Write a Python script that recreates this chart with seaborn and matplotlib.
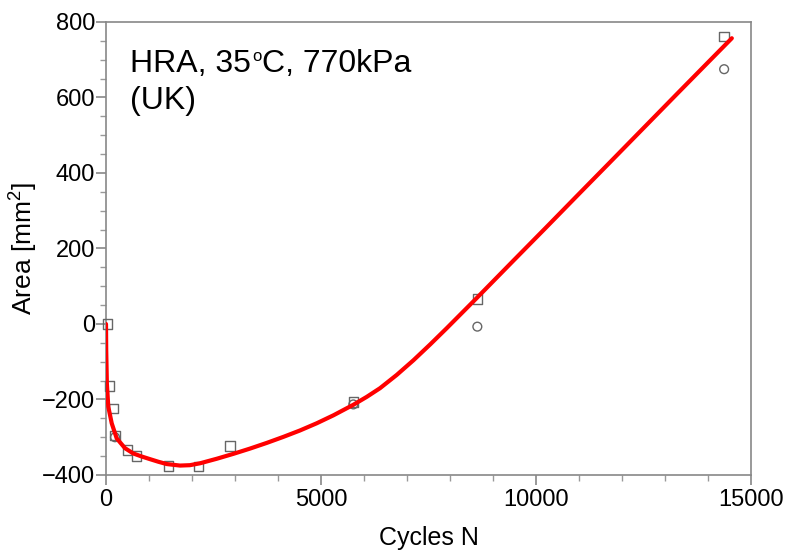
import numpy as np
import pandas as pd
import matplotlib
matplotlib.use("Agg")
import matplotlib.pyplot as plt
import seaborn as sns

# Measured rut area (two measurement sets: squares and circles)
cycles_sq = [30, 77, 170, 209, 495, 714, 1449, 2147, 2884, 5752, 8636, 14375]
area_sq = [0, -164, -223, -296, -334, -350, -376, -378, -323, -207, 66, 761]
cycles_ci = [209, 5752, 8636, 14375]
area_ci = [-300, -213, -7, 675]

# Fitted trend curve
fit_cycles = [0, 5, 20, 53, 133, 249, 442, 635, 830, 1023, 1220, 1412, 1721,
              1950, 2186, 2575, 2961, 3350, 3738, 4125, 4512, 4900, 5287, 5752,
              6064, 6373, 6760, 7150, 7540, 7925, 8615, 9450, 10220, 10950,
              11700, 12500, 13300, 14000, 14554]
fit_area = [0, -69, -157, -219, -263, -303, -329, -343, -351, -358, -365, -371,
            -375, -374, -369, -357, -344, -330, -315, -299, -282, -263, -242,
            -214, -193, -170, -135, -96, -54, -11, 68, 165, 254, 339,
            426, 519, 612, 693, 757]

sns.set_style("ticks", {"text.color": "black", "axes.labelcolor": "black",
                        "xtick.color": "#888888", "ytick.color": "#888888",
                        "axes.edgecolor": "#888888"})
plt.rcParams["font.family"] = ["Liberation Sans", "DejaVu Sans"]
plt.rcParams["mathtext.fontset"] = "custom"
plt.rcParams["mathtext.rm"] = "Liberation Sans"
plt.rcParams["mathtext.it"] = "Liberation Sans:italic"

fig = plt.figure(figsize=(7.91, 5.54), dpi=100)
ax = fig.add_axes([106 / 791, 1 - 475 / 554, 645 / 791, 453 / 554])

sq = pd.DataFrame({"N": cycles_sq, "A": area_sq})
ci = pd.DataFrame({"N": cycles_ci, "A": area_ci})
fit = pd.DataFrame({"N": fit_cycles, "A": fit_area})

sns.scatterplot(data=ci, x="N", y="A", marker="o", s=40, facecolor="none",
                edgecolor="#666666", linewidth=1.0, ax=ax, zorder=3, clip_on=False)
sns.scatterplot(data=sq, x="N", y="A", marker="s", s=45, facecolor="none",
                edgecolor="#666666", linewidth=1.0, ax=ax, zorder=3, clip_on=False)
sns.lineplot(data=fit, x="N", y="A", color="#ff0000", linewidth=3.0,
             ax=ax, zorder=4, sort=False)

ax.set_xlim(0, 15000)
ax.set_ylim(-400, 800)
ax.set_xticks([0, 5000, 10000, 15000])
ax.set_xticks(np.arange(0, 15001, 1000), minor=True)
ax.set_yticks([-400, -200, 0, 200, 400, 600, 800])
ax.set_yticks(np.arange(-400, 801, 50), minor=True)
ax.set_yticklabels(["\u2212400", "\u2212200", "0", "200", "400", "600", "800"])

for s in ax.spines.values():
    s.set_color("#888888")
    s.set_linewidth(1.2)
ax.tick_params(axis="both", which="major", direction="out", length=7, width=1.2,
               color="#888888", labelsize=17, labelcolor="black")
ax.tick_params(axis="x", which="major", pad=3)
ax.tick_params(axis="y", which="major", pad=1)
ax.tick_params(axis="both", which="minor", direction="out", length=4, width=1.0,
               color="#999999")

ax.set_xlabel("Cycles N", fontsize=18, labelpad=11)
ax.set_ylabel("Area [mm$^2$]", fontsize=19, labelpad=1)

# Test-condition caption, with a small raised "o" for degrees
t1 = fig.text(130 / 791, 1 - 72 / 554, "HRA, 35", fontsize=23, va="baseline",
              ha="left", color="black")
t2 = ax.annotate("o", xy=(1, 0), xycoords=t1, xytext=(1, 18),
                 textcoords="offset pixels", fontsize=12, va="baseline",
                 ha="left", color="black", annotation_clip=False)
t3 = ax.annotate("C, 770kPa", xy=(1, 0), xycoords=(t2, t1), xytext=(1, 0),
                 textcoords="offset pixels", fontsize=23, va="bottom",
                 ha="left", color="black", annotation_clip=False)
fig.text(130 / 791, 1 - 108.5 / 554, "(UK)", fontsize=23, va="baseline",
         ha="left", color="black")

fig.savefig("out.png", dpi=100)
